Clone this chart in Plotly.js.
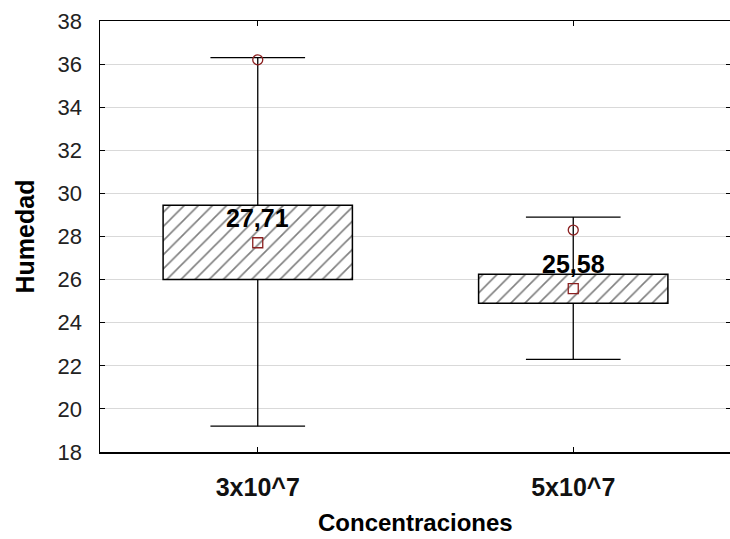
<!DOCTYPE html>
<html><head><meta charset="utf-8">
<script src="https://cdn.plot.ly/plotly-3.0.1.min.js"></script>
<style>html,body{margin:0;padding:0;overflow:hidden;background:#fff}</style>
</head><body>
<div id="chart"></div>
<script>
const categories = ["3x10^7", "5x10^7"];
const meanVals = [27.71, 25.58];
const meanLabels = ["27,71", "25,58"];
const boxLow = [26.0, 24.9];
const boxHigh = [29.45, 26.25];
const whiskerLow = [19.2, 22.3];
const whiskerHigh = [36.3, 28.9];
const circleVals = [36.2, 28.3];

const xs = categories.map((c, i) => i);
const BOXW = 0.6, CAPW = 0.3;
const darkRed = "#8b2020";
const F = "Liberation Sans, Arial, sans-serif";

// whisker segments built from data
const wx = [], wy = [];
xs.forEach((x, i) => {
  wx.push(x, x, null, x, x, null);
  wy.push(boxHigh[i], whiskerHigh[i], null, boxLow[i], whiskerLow[i], null);
  wx.push(x - CAPW/2, x + CAPW/2, null, x - CAPW/2, x + CAPW/2, null);
  wy.push(whiskerHigh[i], whiskerHigh[i], null, whiskerLow[i], whiskerLow[i], null);
});

const traces = [
  {type: "scatter", mode: "lines", x: wx, y: wy, line: {color: "#000", width: 1.3}, hoverinfo: "skip", showlegend: false},
  {type: "bar", x: xs, base: boxLow, y: boxHigh.map((h, i) => h - boxLow[i]), width: BOXW,
   marker: {color: "#fff", line: {color: "#000", width: 1.5},
            pattern: {shape: "/", fgcolor: "#000", bgcolor: "#fff", size: 10, solidity: 0.16, fillmode: "overlay"}},
   showlegend: false},
  {type: "scatter", mode: "markers", x: xs, y: circleVals,
   marker: {symbol: "circle-open", size: 10, color: darkRed, line: {width: 1.3}}, showlegend: false},
  {type: "scatter", mode: "markers", x: xs, y: meanVals,
   marker: {symbol: "square-open", size: 10, color: darkRed, line: {width: 1.3}}, showlegend: false}
];

const annotations = xs.map((x, i) => ({
  x: x, y: meanVals[i], xref: "x", yref: "y", text: "<b>" + meanLabels[i] + "</b>",
  showarrow: false, yanchor: "middle", yshift: 25,
  font: {family: F, size: 25, color: "#000"}
}));
annotations.push({xref: "paper", yref: "paper", x: 0.5, y: 0, yshift: -70, yanchor: "middle",
  text: "<b>Concentraciones</b>", showarrow: false, font: {family: F, size: 24, color: "#000"}});
annotations.push({xref: "paper", yref: "paper", x: 0, xshift: -76, y: 0.5, textangle: -90, xanchor: "center",
  text: "<b>Humedad</b>", showarrow: false, font: {family: F, size: 25, color: "#000"}});

const layout = {
  width: 731, height: 539,
  margin: {l: 100, r: 0, t: 21, b: 87},
  paper_bgcolor: "#fff", plot_bgcolor: "#fff",
  xaxis: {range: [-0.5, 1.5], tickvals: xs, ticktext: categories.map(c => "<b>" + c + "</b>"),
          showgrid: false, zeroline: false, showline: true, linecolor: "#000", linewidth: 1.5,
          mirror: "ticks", ticks: "inside", ticklen: 5, tickcolor: "#000",
          ticklabelstandoff: 12, tickfont: {family: F, size: 25, color: "#111"}},
  yaxis: {range: [18, 38], tickvals: [18,20,22,24,26,28,30,32,34,36,38],
          showgrid: true, gridcolor: "#d9d9d9", gridwidth: 1, zeroline: false,
          showline: true, linecolor: "#000", linewidth: 1.5,
          mirror: "ticks", ticks: "inside", ticklen: 5, tickcolor: "#000",
          ticklabelstandoff: 12, tickfont: {family: F, size: 22, color: "#222"}},
  annotations: annotations,
  bargap: 0
};

Plotly.newPlot("chart", traces, layout, {displayModeBar: false, staticPlot: true});
</script>
</body></html>
